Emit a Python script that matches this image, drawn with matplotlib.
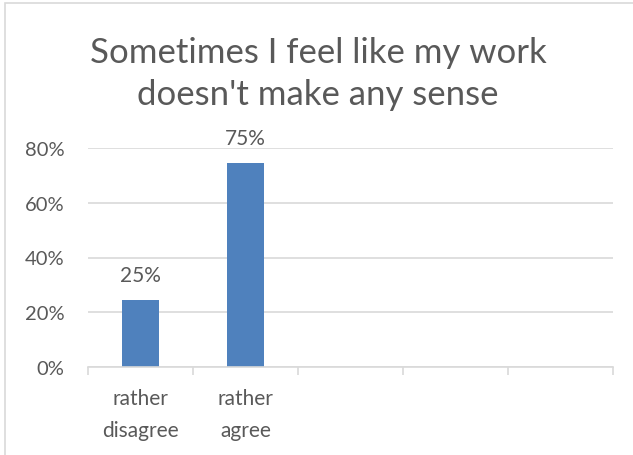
import numpy as np
import matplotlib.pyplot as plt
from matplotlib.patches import Rectangle

# chart data
categories = ["rather\ndisagree", "rather\nagree", "", "", ""]
values = [0.245, 0.745]
value_labels = ["25%", "75%"]
yticks = [0.0, 0.2, 0.4, 0.6, 0.8]
ytick_labels = ["0%", "20%", "40%", "60%", "80%"]
title = "Sometimes I feel like my work\ndoesn't make any sense"

text_col = "#595959"
grid_col = "#D9D9D9"
bar_col = "#4F81BD"

plt.rcParams['font.family'] = ['Lato', 'DejaVu Sans']

W, H = 633, 456
fig = plt.figure(figsize=(W / 100, H / 100), dpi=100)

# chart border (only left and top are visible in the crop)
fig.patches.append(Rectangle((5 / W, -0.1), 1.2, 1 - 4 / H + 0.1,
                             transform=fig.transFigure, fill=False,
                             edgecolor=grid_col, linewidth=1.2))

ax = fig.add_axes([88 / W, 1 - 368 / H, (613 - 88) / W, (368 - 149) / H])

x = np.arange(len(categories))
ax.bar(x[:len(values)], values, width=0.36, color=bar_col, zorder=3)
for xi, v, lab in zip(x, values, value_labels):
    ax.annotate(lab, (xi, v), xytext=(0, 18), textcoords="offset points",
                ha="center", va="center", color=text_col, fontsize=15)

ax.set_xlim(-0.5, len(categories) - 0.5)
ax.set_ylim(0, 0.8)
ax.set_yticks(yticks)
ax.set_yticklabels(ytick_labels)
ax.yaxis.grid(True, color=grid_col, linewidth=1.2)
ax.set_axisbelow(True)

for s in ["top", "right", "left"]:
    ax.spines[s].set_visible(False)
ax.spines["bottom"].set_color(grid_col)
ax.spines["bottom"].set_linewidth(1.2)
ax.spines["bottom"].set_zorder(4)

# category labels centered, tick marks on boundaries
ax.set_xticks(x)
ax.set_xticklabels(categories, color=text_col, fontsize=15, linespacing=1.75)
ax.tick_params(axis="x", length=0, pad=15)
ax.set_xticks(np.arange(-0.5, len(categories)), minor=True)
ax.tick_params(axis="x", which="minor", length=6, width=1.2, color=grid_col)
ax.tick_params(axis="y", length=0, labelcolor=text_col, labelsize=14.5, pad=17)

fig.text(318 / W, 1 - 74 / H, title, ha="center", va="center",
         fontsize=25, color=text_col, linespacing=1.38)

fig.savefig("out.png", dpi=100)
